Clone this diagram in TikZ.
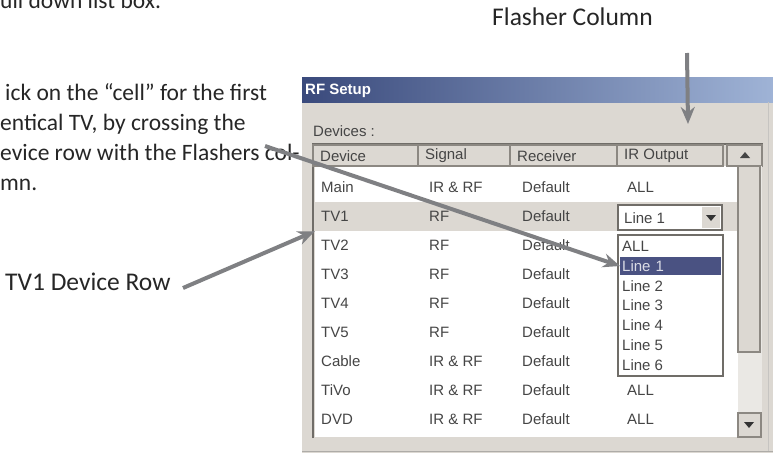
\documentclass[tikz,border=0pt]{standalone}
\usepackage{fontspec}
\setmainfont{Carlito}
\newfontfamily\uifont{Liberation Sans}
\usetikzlibrary{arrows.meta}
\definecolor{notetext}{HTML}{262626}
\definecolor{uitext}{HTML}{454545}
\definecolor{winbg}{HTML}{DCD8D2}
\definecolor{edgegray}{HTML}{8C8882}
\definecolor{arrowgray}{HTML}{7F8083}
\definecolor{titledark}{HTML}{3A4A7C}
\definecolor{titlelight}{HTML}{9FB3D6}
\definecolor{pickblue}{HTML}{4A5282}
\begin{document}
\begin{tikzpicture}[x=1pt, y=-1pt,
        note/.style={anchor=base west, inner sep=0pt, text=notetext, font=\fontsize{23.5}{29}\selectfont},
        label/.style={note, font=\fontsize{25.5}{30}\selectfont},
        ui/.style={anchor=west, inner sep=0pt, text=uitext, font=\uifont\fontsize{15}{18}\selectfont},
        hdrcell/.style={draw=edgegray, fill=winbg, line width=1.2pt},
        rowsel/.style={fill=winbg, inner sep=0pt, minimum width=423pt, minimum height=29pt},
        listbox/.style={draw=edgegray!80!black, fill=white, line width=1.2pt},
        callout/.style={-{Stealth[length=17pt, width=14pt]}, line width=4pt, draw=arrowgray}
    ]

    \path[use as bounding box] (0,0) rectangle (773,453);

    \fill[winbg] (302,77) rectangle (773,453);
    \shade[left color=titledark, right color=titlelight] (302,77) rectangle (773,102);
    \draw[edgegray!70] (302,451) -- (773,451);
    \draw[edgegray!50] (768,102) -- (768,451);
    \node[ui, text=white, font=\uifont\bfseries\fontsize{15}{18}\selectfont] (title) at (305,91) {RF Setup};
    \node[ui] (devlabel) at (313,131) {Devices :};

    \fill[white] (315,166) rectangle (738,437);
    \node[rowsel] (tvonerow) at (526.5,216.5) {};
    \draw[edgegray!80!black, line width=2pt] (313,438) -- (313,144) -- (763,144);

    \foreach \x/\w/\t [count=\k] in {313/105/Device, 418/92/Signal, 510/107/Receiver, 617/106/IR Output} {
        \draw[hdrcell] (\x,145) rectangle ++(\w,21);
        \node[ui] (head\k) at (\x+7,156) {\t};
    }
    \draw[hdrcell] (727,145) rectangle (762,166);
    \fill[uitext] (740,158) -- (750,158) -- (745,152) -- cycle;

    \fill[winbg!60!white] (738,166) rectangle (762,437);
    \draw[hdrcell] (738,166) rectangle (760,352);
    \draw[hdrcell] (738,413) rectangle (761,437);
    \fill[black!80] (744,422) -- (754,422) -- (749,428) -- cycle;

    \foreach \dev/\sig/\out [count=\i] in {Main/IR \& RF/ALL, TV1/RF/, TV2/RF/, TV3/RF/, TV4/RF/, TV5/RF/, Cable/IR \& RF/, TiVo/IR \& RF/ALL, DVD/IR \& RF/ALL} {
        \node[ui] (dev\i) at (321,{187+(\i-1)*29}) {\dev};
        \node[ui] (sig\i) at (429,{187+(\i-1)*29}) {\sig};
        \node[ui] (rcv\i) at (522,{187+(\i-1)*29}) {Default};
        \node[ui] (out\i) at (627,{187+(\i-1)*29}) {\out};
    }

    \draw[listbox] (618,205) rectangle (722,230);
    \node[ui] (combo) at (624,218) {Line 1};
    \fill[winbg] (702,207) rectangle (720,228);
    \fill[black!80] (706,215) -- (716,215) -- (711,221) -- cycle;

    \draw[listbox] (618,235) rectangle (723,376);
    \node[ui] (pickall) at (622,246) {ALL};
    \node[ui, fill=pickblue, text=white!80!pickblue, text width=97pt, align=left, minimum height=18pt, inner xsep=2pt] (lineone) at (620,266) {Line 1};
    \foreach \n [count=\j] in {2,...,6} {
        \node[ui] (line\n) at (622,{266+\j*19.8}) {Line \n};
    }

    \node[note] (pulltext) at (0,8) {ull down list box.};
    \node[note] (stepa) at (5,100) {ick on the “cell” for the first};
    \node[note] (stepb) at (0,130) {entical TV, by crossing the};
    \node[note] (stepc) at (0,160) {evice row with the Flashers col-};
    \node[note] (stepd) at (0,190) {mn.};
    \node[label] (tvlabel) at (5,290) {TV1 Device Row};
    \node[label] (flashlabel) at (492,25) {Flasher Column};

    \coordinate (colstart) at (265,146);
    \coordinate (tvstart) at (183,288);
    \coordinate (flashtop) at (687,53);
    \coordinate (flashtip) at (688,124);

    \draw[callout] (colstart) -- (lineone.west);
    \draw[callout] (tvstart) -- (tvonerow.south west);
    \draw[callout] (flashtop) -- (flashtip);

\end{tikzpicture}
\end{document}
